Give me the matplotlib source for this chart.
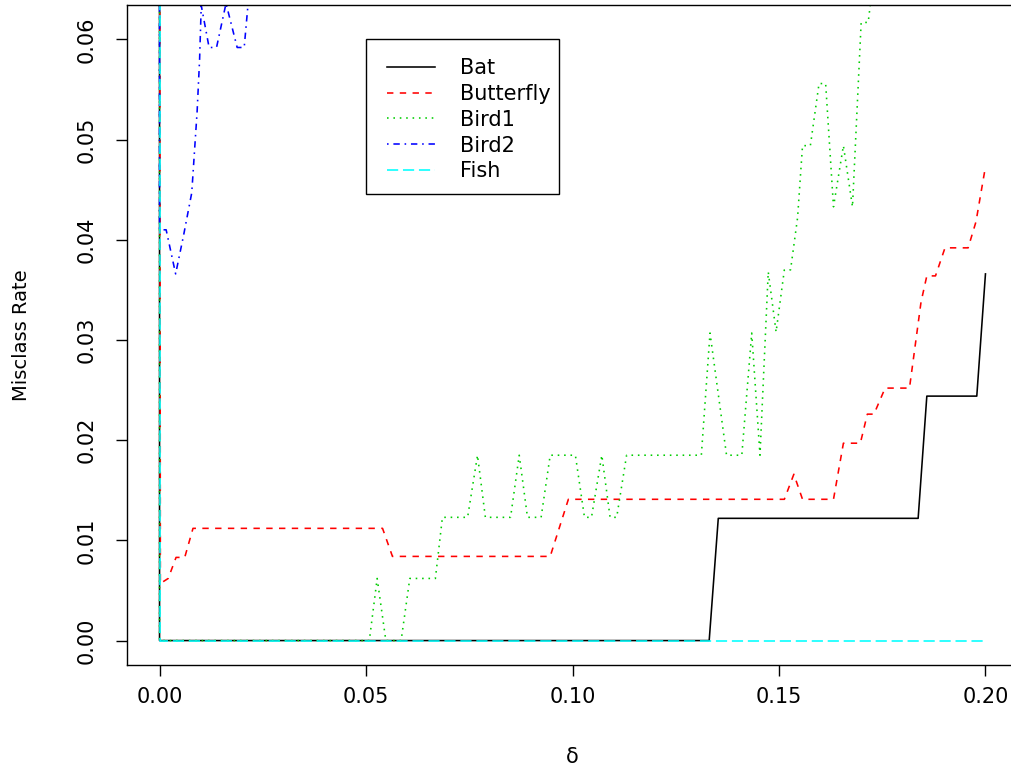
import matplotlib
matplotlib.use("Agg")
import matplotlib.pyplot as plt
from matplotlib.patches import Rectangle

plt.rcParams['font.family'] = ['DejaVu Sans']
plt.rcParams['lines.scale_dashes'] = True

# Misclassification rate against the shrinkage threshold delta, per species.
# Each series is stored as the vertices of its polyline.
bat_delta = [0.0, 0.0, 0.1331, 0.1353, 0.1837, 0.1858, 0.1979, 0.2000]
bat_rate = [0.10, 0.0, 0.0, 0.0122, 0.0122, 0.0244, 0.0244, 0.0366]

butterfly_delta = [0.0, 0.0002, 0.0021, 0.0040, 0.0061, 0.0081, 0.0540, 0.0564,
                   0.0946, 0.0990, 0.1513, 0.1536, 0.1557, 0.1632, 0.1656,
                   0.1697, 0.1714, 0.1730, 0.1757, 0.1816, 0.1844, 0.1858,
                   0.1879, 0.1902, 0.1958, 0.1977, 0.2000]
butterfly_rate = [0.10, 0.0057, 0.0062, 0.0083, 0.0083, 0.0112, 0.0112, 0.0084,
                  0.0084, 0.0141, 0.0141, 0.0166, 0.0141, 0.0141, 0.0197,
                  0.0197, 0.0226, 0.0226, 0.0252, 0.0252, 0.0338, 0.0364,
                  0.0364, 0.0392, 0.0392, 0.0418, 0.0473]

bird1_delta = [0.0, 0.0, 0.0508, 0.0527, 0.0548, 0.0585, 0.0606, 0.0668,
               0.0685, 0.0746, 0.0770, 0.0789, 0.0850, 0.0871, 0.0891,
               0.0924, 0.0946, 0.1007, 0.1029, 0.1046, 0.1071, 0.1091,
               0.1107, 0.1131, 0.1312, 0.1333, 0.1373, 0.1410, 0.1434,
               0.1454, 0.1474, 0.1493, 0.1513, 0.1528, 0.1545, 0.1557,
               0.1576, 0.1597, 0.1613, 0.1632, 0.1656, 0.1678, 0.1699,
               0.1716, 0.1740, 0.2000]
bird1_rate = [0.10, 0.0, 0.0, 0.0062, 0.0, 0.0, 0.0062, 0.0062,
              0.0123, 0.0123, 0.0185, 0.0123, 0.0123, 0.0185, 0.0123,
              0.0123, 0.0185, 0.0185, 0.0123, 0.0123, 0.0185, 0.0123,
              0.0123, 0.0185, 0.0185, 0.0307, 0.0185, 0.0185, 0.0307,
              0.0185, 0.0368, 0.0308, 0.0370, 0.0370, 0.0422, 0.0494,
              0.0494, 0.0556, 0.0556, 0.0433, 0.0494, 0.0433, 0.0617,
              0.0617, 0.0700, 0.0900]

bird2_delta = [0.0, 0.0, 0.0016, 0.0039, 0.0058, 0.0078, 0.0091, 0.0097,
               0.0101, 0.0120, 0.0138, 0.0161, 0.0188, 0.0205, 0.0224, 0.2000]
bird2_rate = [0.10, 0.0410, 0.0410, 0.0366, 0.0404, 0.0447, 0.0528, 0.0580,
              0.0634, 0.0592, 0.0592, 0.0636, 0.0592, 0.0592, 0.0680, 0.0900]

fish_delta = [0.0, 0.0, 0.2000]
fish_rate = [0.10, 0.0, 0.0]

species = ["Bat", "Butterfly", "Bird1", "Bird2", "Fish"]
x_ticks = [0.00, 0.05, 0.10, 0.15, 0.20]
y_ticks = [0.00, 0.01, 0.02, 0.03, 0.04, 0.05, 0.06]

W, H = 1011, 772
fig = plt.figure(figsize=(W / 100, H / 100), dpi=100)
ax = fig.add_axes([126.5 / W, (H - 665) / H, 892 / W, 660 / H])

lw = 1.15
styles = [
    dict(color="black", linestyle="-"),
    dict(color="#FF0000", linestyle=(0, (4, 4))),
    dict(color="#00CD00", linestyle=(0, (1, 3))),
    dict(color="#0000FF", linestyle=(0, (1, 3, 4, 3))),
    dict(color="#00FFFF", linestyle=(0, (7, 3))),
]
series = [(bat_delta, bat_rate), (butterfly_delta, butterfly_rate),
          (bird1_delta, bird1_rate), (bird2_delta, bird2_rate),
          (fish_delta, fish_rate)]

handles = []
for (dx, ry), name, st in zip(series, species, styles):
    h, = ax.plot(dx, ry, lw=lw, label=name, **st)
    handles.append(h)

ax.set_xlim(-0.008, 0.208)
ax.set_ylim(-0.00244, 0.06344)

fs = 15
ax.set_xticks(x_ticks)
ax.set_xticklabels([f"{v:.2f}" for v in x_ticks])
ax.set_yticks(y_ticks)
ax.set_yticklabels([f"{v:.2f}" for v in y_ticks])

ax.tick_params(axis="both", direction="out", length=7.9, width=1.0,
               labelsize=fs, color="black")
ax.tick_params(axis="x", pad=7.9)
ax.tick_params(axis="y", pad=13.8, labelrotation=90)
plt.setp(ax.get_yticklabels(), va="center")

for sp in ax.spines.values():
    sp.set_linewidth(1.0)
    sp.set_color("black")

ax.set_xlabel("δ", fontsize=fs)
ax.xaxis.label.set_va("center")
ax.xaxis.set_label_coords(0.5, (665 - 757) / 660)
ax.set_ylabel("Misclass Rate", fontsize=14)
ax.yaxis.label.set_va("center")
ax.yaxis.set_label_coords((22 - 126.5) / 892, 0.5)


def ax_x(px):
    return (px - 126.5) / 892


def ax_y(py):
    return (665 - py) / 660


leg = ax.legend(handles=handles, loc="upper left",
                bbox_to_anchor=(ax_x(387.3), ax_y(58.0)),
                frameon=False, fontsize=fs, borderpad=0, borderaxespad=0,
                handlelength=2.29, handletextpad=1.2, labelspacing=0.28)
ax.add_patch(Rectangle((ax_x(365.7), ax_y(194)), ax_x(559.3) - ax_x(365.7),
                       ax_y(39.3) - ax_y(194), transform=ax.transAxes,
                       fill=False, edgecolor="black", lw=1.0, zorder=5))

fig.savefig("out.png", dpi=100)
